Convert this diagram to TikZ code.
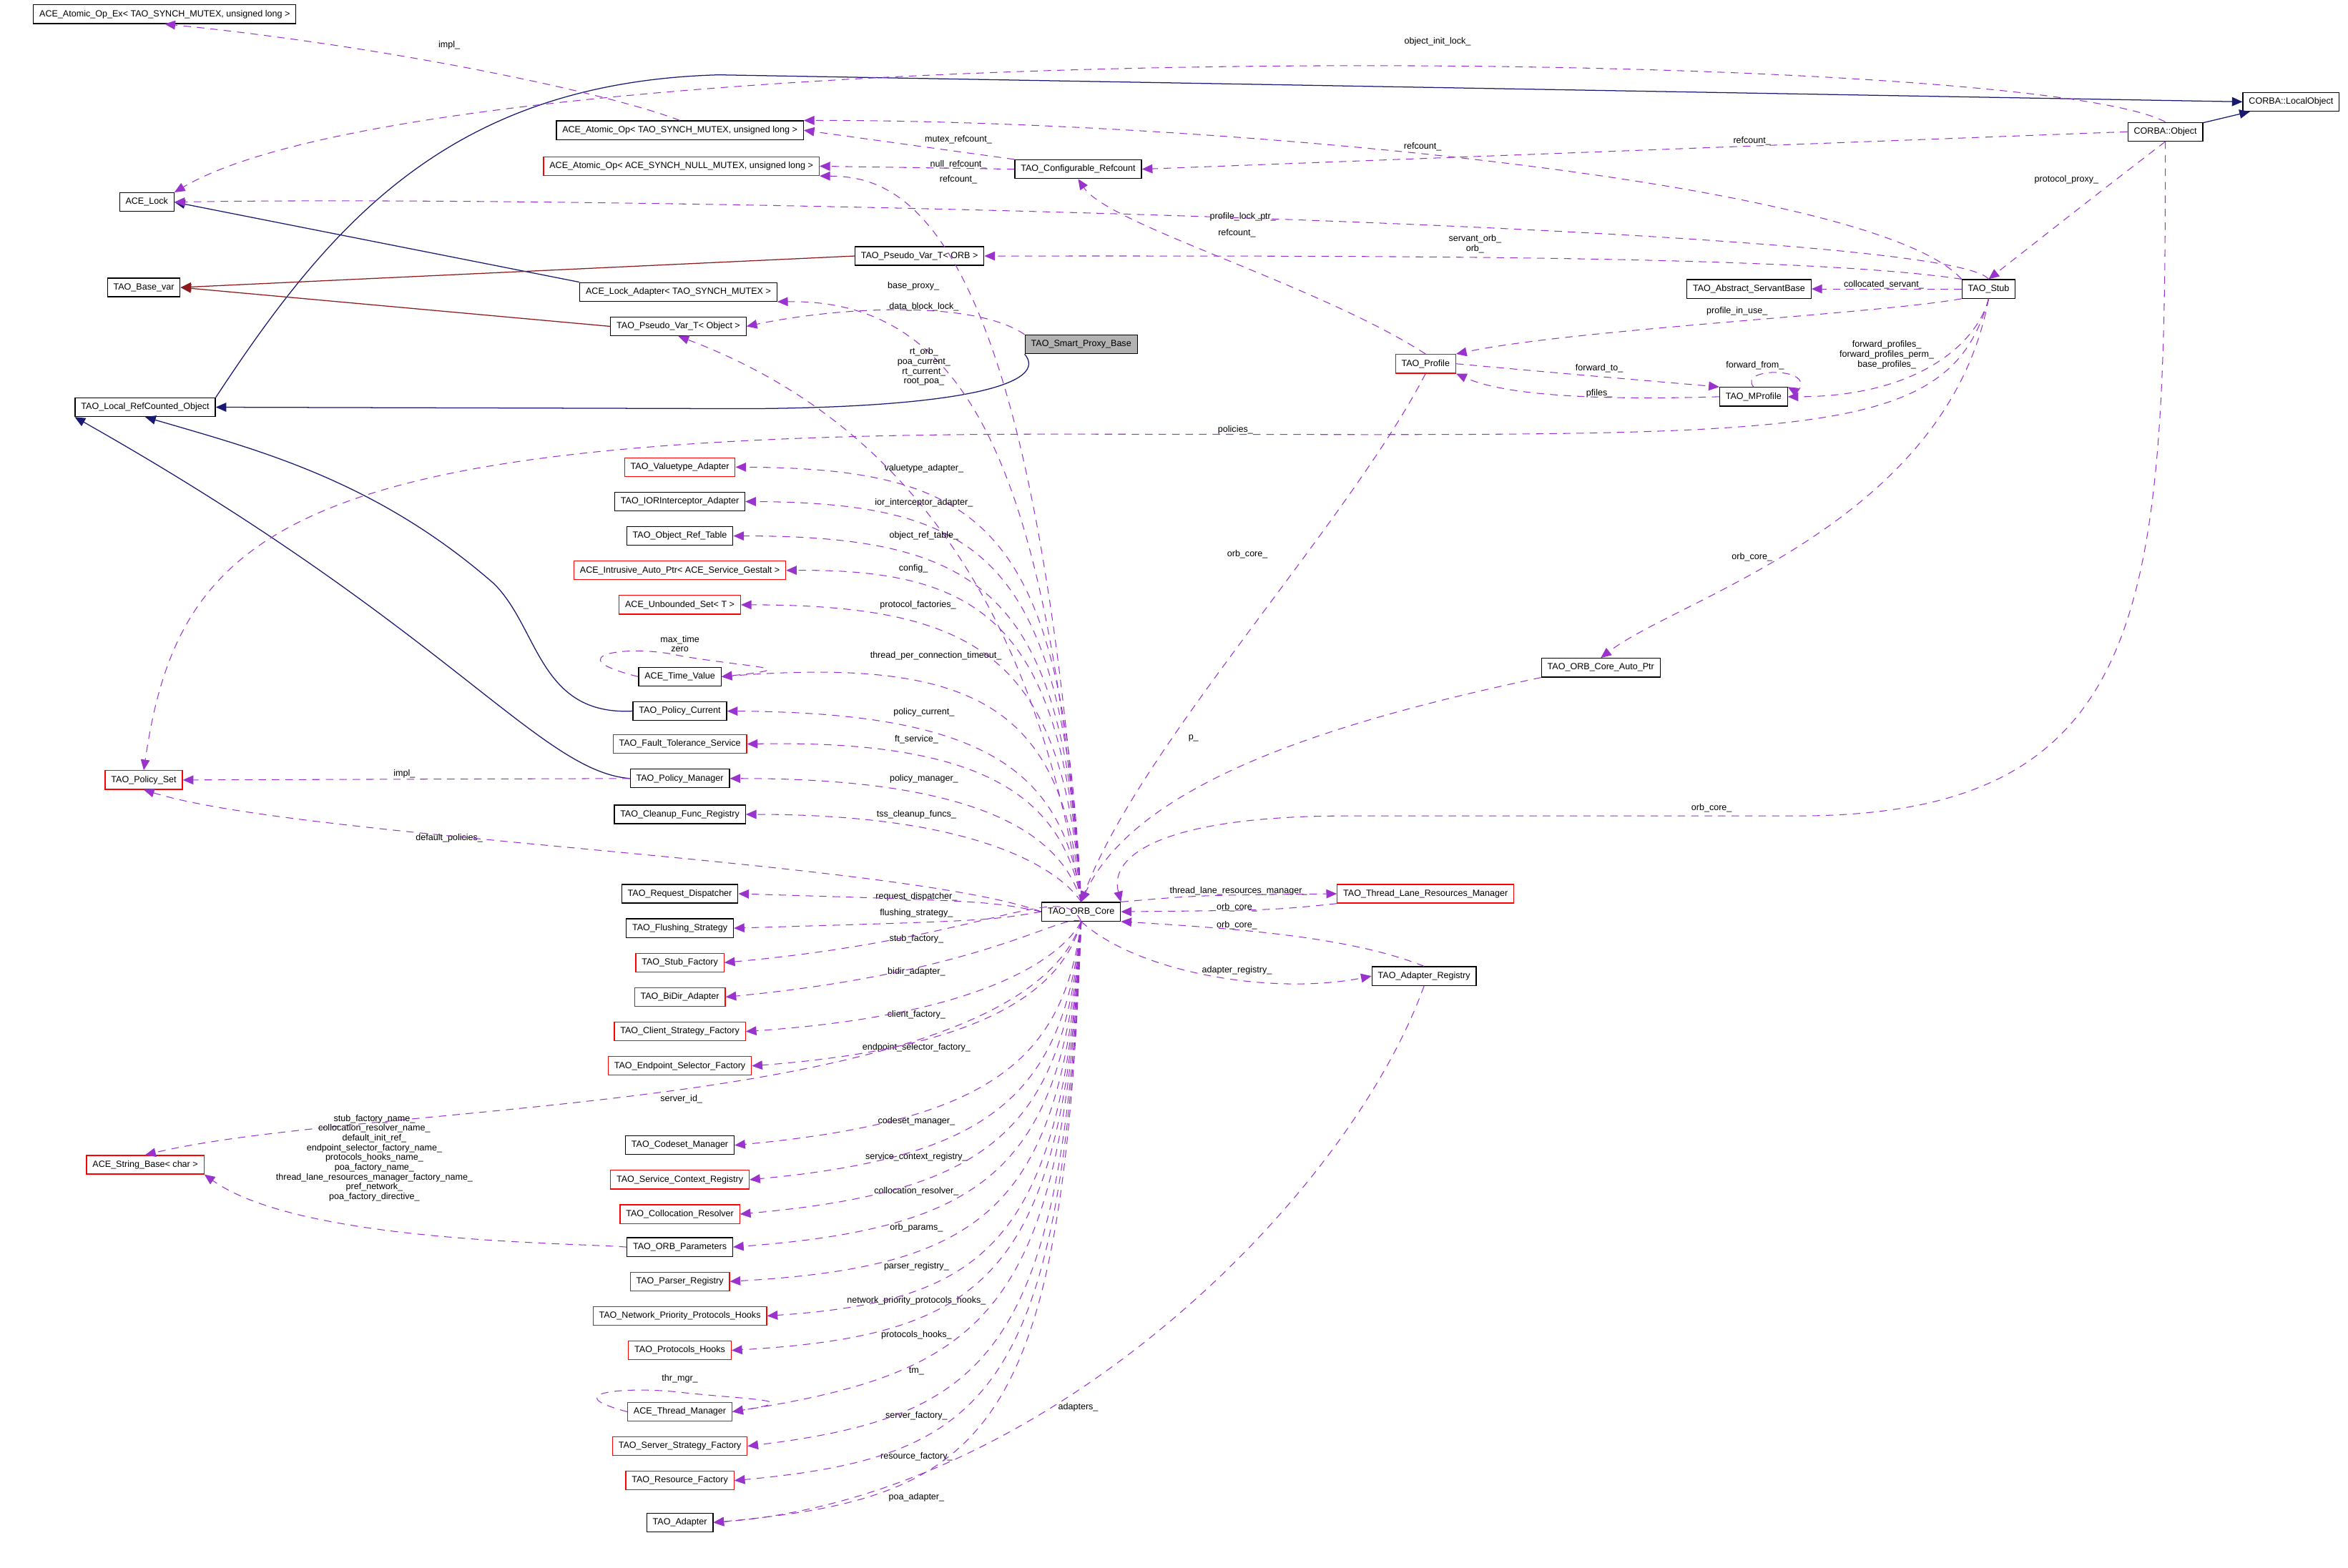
\documentclass[tikz,border=0pt]{standalone}
\usepackage{fontspec}
\setmainfont{Liberation Sans}
\usetikzlibrary{arrows.meta}
\definecolor{inh}{HTML}{191970}
\definecolor{tpl}{HTML}{8B1A1A}
\definecolor{usec}{HTML}{9A32CD}
\tikzset{
 cls/.style={draw=black,line width=0.6pt,fill=white,inner xsep=4pt,inner ysep=0pt,minimum height=12.5pt,font=\fontsize{6}{7}\selectfont},
 rcls/.style={cls,draw=red},
 gcls/.style={cls,fill=black!30},
 inhe/.style={draw=inh,line width=0.6pt,-{Triangle[length=7pt,width=6pt]}},
 tple/.style={draw=tpl,line width=0.6pt,-{Triangle[length=7pt,width=6pt]}},
 usee/.style={draw=usec,line width=0.5pt,dash pattern=on 5pt off 4pt,-{Triangle[length=7pt,width=6pt,fill=usec]}},
 lbl/.style={font=\fontsize{6}{6.5}\selectfont,align=center,inner sep=0.5pt}
}
\begin{document}
\begin{tikzpicture}[x=1pt,y=-1pt]
\useasboundingbox[fill=white] (0,0) rectangle (1568,1047);
% nodes
\node[cls] (aex) at (110,9.5) {ACE\_Atomic\_Op\_Ex< TAO\_SYNCH\_MUTEX, unsigned long >};
\node[cls] (lo) at (1530,68) {CORBA::LocalObject};
\node[cls] (co) at (1446,88) {CORBA::Object};
\node[cls] (aop) at (454,87) {ACE\_Atomic\_Op< TAO\_SYNCH\_MUTEX, unsigned long >};
\node[rcls] (aopn) at (455,111) {ACE\_Atomic\_Op< ACE\_SYNCH\_NULL\_MUTEX, unsigned long >};
\node[cls] (cref) at (720,113) {TAO\_Configurable\_Refcount};
\node[cls] (lock) at (98,135) {ACE\_Lock};
\node[cls] (pvorb) at (614,171) {TAO\_Pseudo\_Var\_T< ORB >};
\node[cls] (bvar) at (96,192) {TAO\_Base\_var};
\node[cls] (lad) at (453,195) {ACE\_Lock\_Adapter< TAO\_SYNCH\_MUTEX >};
\node[cls] (asb) at (1168,193) {TAO\_Abstract\_ServantBase};
\node[cls] (stub) at (1328,193) {TAO\_Stub};
\node[cls] (pvobj) at (453,218) {TAO\_Pseudo\_Var\_T< Object >};
\node[gcls] (spb) at (722,230) {TAO\_Smart\_Proxy\_Base};
\node[rcls] (prof) at (952,243) {TAO\_Profile};
\node[cls] (mprof) at (1171,265) {TAO\_MProfile};
\node[cls] (lrc) at (97,272) {TAO\_Local\_RefCounted\_Object};
\node[rcls] (vta) at (454,312) {TAO\_Valuetype\_Adapter};
\node[cls] (ioa) at (454,335) {TAO\_IORInterceptor\_Adapter};
\node[cls] (ort) at (454,358) {TAO\_Object\_Ref\_Table};
\node[rcls] (iap) at (454,381) {ACE\_Intrusive\_Auto\_Ptr< ACE\_Service\_Gestalt >};
\node[rcls] (uset) at (454,404) {ACE\_Unbounded\_Set< T >};
\node[cls] (tv) at (454,452) {ACE\_Time\_Value};
\node[cls] (cap) at (1069,446) {TAO\_ORB\_Core\_Auto\_Ptr};
\node[cls] (pc) at (454,475) {TAO\_Policy\_Current};
\node[rcls] (fts) at (454,497) {TAO\_Fault\_Tolerance\_Service};
\node[rcls] (ps) at (96,521) {TAO\_Policy\_Set};
\node[cls] (pm) at (454,520) {TAO\_Policy\_Manager};
\node[cls] (cfr) at (454,544) {TAO\_Cleanup\_Func\_Registry};
\node[cls] (rd) at (454,597) {TAO\_Request\_Dispatcher};
\node[cls] (core) at (722,609) {TAO\_ORB\_Core};
\node[rcls] (tlrm) at (952,597) {TAO\_Thread\_Lane\_Resources\_Manager};
\node[cls] (fs) at (454,620) {TAO\_Flushing\_Strategy};
\node[rcls] (sf) at (454,643) {TAO\_Stub\_Factory};
\node[cls] (ar) at (951,652) {TAO\_Adapter\_Registry};
\node[rcls] (bda) at (454,666) {TAO\_BiDir\_Adapter};
\node[rcls] (csf) at (454,689) {TAO\_Client\_Strategy\_Factory};
\node[rcls] (esf) at (454,712) {TAO\_Endpoint\_Selector\_Factory};
\node[rcls] (sb) at (97,778) {ACE\_String\_Base< char >};
\node[cls] (cm) at (454,765) {TAO\_Codeset\_Manager};
\node[rcls] (scr) at (454,788) {TAO\_Service\_Context\_Registry};
\node[rcls] (cr) at (454,811) {TAO\_Collocation\_Resolver};
\node[cls] (op) at (454,833) {TAO\_ORB\_Parameters};
\node[rcls] (pr) at (454,856) {TAO\_Parser\_Registry};
\node[rcls] (nph) at (454,879) {TAO\_Network\_Priority\_Protocols\_Hooks};
\node[rcls] (ph) at (454,902) {TAO\_Protocols\_Hooks};
\node[rcls] (tm) at (454,943) {ACE\_Thread\_Manager};
\node[rcls] (ssf) at (454,966) {TAO\_Server\_Strategy\_Factory};
\node[rcls] (rf) at (454,989) {TAO\_Resource\_Factory};
\node[cls] (ad) at (454,1017) {TAO\_Adapter};

% inheritance
\draw[inhe] (co) -- (lo);
\draw[inhe] (lrc.north east) .. controls (220,150) and (300,55) .. (480,50) -- (lo.west);
\draw[inhe] (spb.south west) .. controls (700,255) and (650,272) .. (500,273) -- (lrc.east);
\draw[inhe] (lad.north west) -- (lock.east);
\draw[inhe] (pc.west) .. controls (360,478) and (360,420) .. (330,390) .. controls (250,320) and (170,300) .. (lrc.south);
\draw[inhe] (pm.west) .. controls (360,515) and (300,420) .. (lrc.south west);
\draw[tple] (pvorb.west) -- (bvar.east);
\draw[tple] (pvobj.west) -- (bvar.east);

% usage
\node[lbl] (l1) at (300,30) {impl\_};
\draw[usee] (aop.north) .. controls (400,60) and (250,30) .. (aex.south);
\node[lbl] (l2) at (960,28) {object\_init\_lock\_};
\draw[usee] (co.north) .. controls (1350,30) and (300,20) .. (lock.north east);
\node[lbl] (l3) at (640,93) {mutex\_refcount\_};
\draw[usee] (cref.north west) -- (aop.east);
\node[lbl] (l4) at (640,110) {null\_refcount\_};
\draw[usee] (cref.west) -- (aopn.east);
\node[lbl] (l5) at (1170,94) {refcount\_};
\draw[usee] (co.west) -- (cref.east);
\node[lbl] (l6) at (950,98) {refcount\_};
\draw[usee] (stub.north west) .. controls (1250,120) and (800,80) .. (aop.north east);
\node[lbl] (l7) at (640,120) {refcount\_};
\draw[usee] (core.north) .. controls (690,140) and (600,118) .. (aopn.south east);
\node[lbl] (l8) at (830,145) {profile\_lock\_ptr\_};
\draw[usee] (stub.north) .. controls (1300,150) and (400,130) .. (lock.east);
\node[lbl] (l9) at (985,163) {servant\_orb\_\\orb\_};
\draw[usee] (stub.north west) .. controls (1200,170) and (900,171) .. (pvorb.east);
\node[lbl] (l10) at (1258,190) {collocated\_servant\_};
\draw[usee] (stub.west) -- (asb.east);
\node[lbl] (l11) at (1380,120) {protocol\_proxy\_};
\draw[usee] (co.south) .. controls (1400,130) .. (stub.north);
\node[lbl] (l12) at (826,156) {refcount\_};
\draw[usee] (prof.north) .. controls (880,190) and (740,150) .. (cref.south);
\node[lbl] (l13) at (1160,208) {profile\_in\_use\_};
\draw[usee] (stub.south west) .. controls (1250,210) and (1050,220) .. (prof.north east);
\node[lbl] (l14) at (1068,246) {forward\_to\_};
\draw[usee] (prof.east) .. controls (1050,250) .. (mprof.north west);
\node[lbl] (l15) at (1068,263) {pfiles\_};
\draw[usee] (mprof.west) .. controls (1050,268) and (1000,262) .. (prof.south east);
\node[lbl] (l16) at (1172,244) {forward\_from\_};
\draw[usee] (mprof.north) .. controls (1160,245) and (1215,245) .. (1200,262) -- (mprof.north east);
\node[lbl] (l17) at (1260,237) {forward\_profiles\_\\forward\_profiles\_perm\_\\base\_profiles\_};
\draw[usee] (stub.south) .. controls (1320,230) and (1280,265) .. (mprof.east);
\node[lbl] (l18) at (610,191) {base\_proxy\_};
\draw[usee] (spb.north west) .. controls (650,200) and (560,205) .. (pvobj.east);
\node[lbl] (l19) at (617,205) {data\_block\_lock\_};
\draw[usee] (core.north) .. controls (700,300) and (640,200) .. (lad.south east);
\node[lbl] (l20) at (617,245) {rt\_orb\_\\poa\_current\_\\rt\_current\_\\root\_poa\_};
\draw[usee] (core.north) .. controls (690,400) and (600,280) .. (pvobj.south);
\node[lbl] (l21) at (825,287) {policies\_};
\draw[usee] (stub.south) .. controls (1300,300) and (1200,290) .. (700,290) .. controls (200,290) and (120,350) .. (ps.north);

% ORB core fan
\newcommand{\fanup}[5]{\node[lbl] (#1) at (#3,#4) {#5};
 \draw[usee] (core.north) .. controls (710,#4+40) and (660,#4) .. (#2.east);}
\newcommand{\fandn}[5]{\node[lbl] (#1) at (#3,#4) {#5};
 \draw[usee] (core.south) .. controls (710,#4-40) and (660,#4) .. (#2.east);}
\fanup{f1}{vta}{617}{313}{valuetype\_adapter\_}
\fanup{f2}{ioa}{617}{336}{ior\_interceptor\_adapter\_}
\fanup{f3}{ort}{617}{358}{object\_ref\_table\_}
\fanup{f4}{iap}{610}{380}{config\_}
\fanup{f5}{uset}{613}{404}{protocol\_factories\_}
\fanup{f6}{tv}{625}{438}{thread\_per\_connection\_timeout\_}
\fanup{f7}{pc}{617}{476}{policy\_current\_}
\fanup{f8}{fts}{612}{494}{ft\_service\_}
\fanup{f9}{pm}{617}{520}{policy\_manager\_}
\fanup{f10}{cfr}{612}{544}{tss\_cleanup\_funcs\_}
\node[lbl] (f11) at (612,599) {request\_dispatcher\_};
\draw[usee] (core.west) .. controls (660,602) .. (rd.east);
\node[lbl] (f12) at (612,610) {flushing\_strategy\_};
\draw[usee] (core.west) .. controls (660,615) .. (fs.east);
\fandn{f13}{sf}{612}{627}{stub\_factory\_}
\fandn{f14}{bda}{612}{649}{bidir\_adapter\_}
\fandn{f15}{csf}{612}{678}{client\_factory\_}
\fandn{f16}{esf}{612}{700}{endpoint\_selector\_factory\_}
\fandn{f17}{cm}{612}{749}{codeset\_manager\_}
\fandn{f18}{scr}{612}{773}{service\_context\_registry\_}
\fandn{f19}{cr}{612}{796}{collocation\_resolver\_}
\fandn{f20}{op}{612}{820}{orb\_params\_}
\fandn{f21}{pr}{612}{846}{parser\_registry\_}
\fandn{f22}{nph}{612}{869}{network\_priority\_protocols\_hooks\_}
\fandn{f23}{ph}{612}{892}{protocols\_hooks\_}
\fandn{f24}{tm}{612}{916}{tm\_}
\fandn{f25}{ssf}{612}{946}{server\_factory\_}
\fandn{f26}{rf}{612}{973}{resource\_factory\_}
\fandn{f27}{ad}{612}{1000}{poa\_adapter\_}
\node[lbl] (f28) at (455,734) {server\_id\_};
\draw[usee] (core.south) .. controls (680,745) and (250,735) .. (sb.north);
\node[lbl] (f29) at (300,560) {default\_policies\_};
\draw[usee] (core.west) .. controls (600,575) and (200,560) .. (ps.south);

% self loops
\node[lbl] (s1) at (454,430) {max\_time\\zero};
\draw[usee] (tv.west) .. controls (370,438) and (420,430) .. (454,438) .. controls (500,446) and (540,446) .. (tv.east);
\node[lbl] (s2) at (454,921) {thr\_mgr\_};
\draw[usee] (tm.west) .. controls (370,930) and (420,926) .. (454,930) .. controls (500,935) and (540,935) .. (tm.east);

% others
\node[lbl] (o1) at (270,517) {impl\_};
\draw[usee] (pm.west) -- (ps.east);
\node[lbl,anchor=north] (o2) at (250,744) {stub\_factory\_name\_\\collocation\_resolver\_name\_\\default\_init\_ref\_\\endpoint\_selector\_factory\_name\_\\protocols\_hooks\_name\_\\poa\_factory\_name\_\\thread\_lane\_resources\_manager\_factory\_name\_\\pref\_network\_\\poa\_factory\_directive\_};
\draw[usee] (op.west) .. controls (380,830) and (200,830) .. (sb.south east);
\node[lbl] (o3) at (797,493) {p\_};
\draw[usee] (cap.south west) .. controls (900,480) and (760,520) .. (core.north);
\node[lbl] (o4) at (1170,372) {orb\_core\_};
\draw[usee] (stub.south) .. controls (1300,350) and (1120,400) .. (cap.north);
\node[lbl] (o5) at (833,370) {orb\_core\_};
\draw[usee] (prof.south) .. controls (900,350) and (760,500) .. (core.north);
\node[lbl] (o6) at (1143,540) {orb\_core\_};
\draw[usee] (co.south) .. controls (1446,400) and (1440,545) .. (1200,545) -- (900,545) .. controls (780,545) and (740,570) .. (core.north east);
\node[lbl] (o7) at (827,595) {thread\_lane\_resources\_manager\_};
\draw[usee] (core.north east) .. controls (800,598) .. (tlrm.west);
\node[lbl] (o8) at (826,606) {orb\_core\_};
\draw[usee] (tlrm.south west) .. controls (850,608) .. (core.east);
\node[lbl] (o9) at (826,618) {orb\_core\_};
\draw[usee] (ar.north) .. controls (900,625) and (820,620) .. (core.south east);
\node[lbl] (o10) at (826,648) {adapter\_registry\_};
\draw[usee] (core.south) .. controls (760,650) and (850,665) .. (ar.west);
\node[lbl] (o11) at (720,940) {adapters\_};
\draw[usee] (ar.south) .. controls (900,800) and (700,1000) .. (ad.east);
\end{tikzpicture}
\end{document}
